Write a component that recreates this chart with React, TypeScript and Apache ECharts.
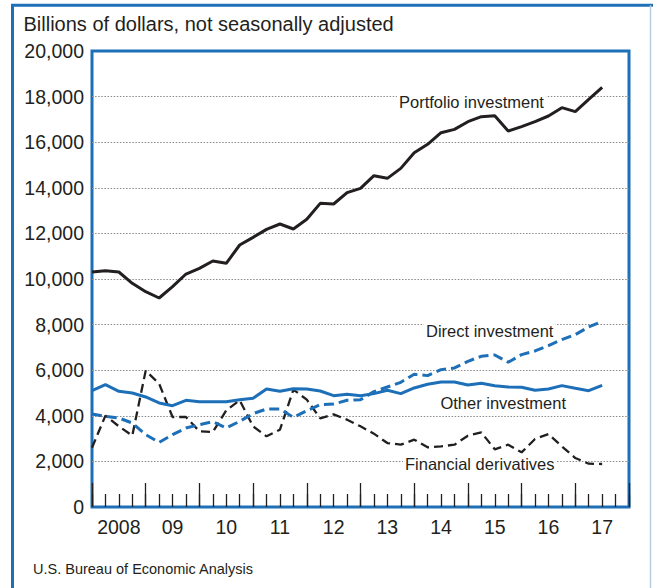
import React, { useEffect, useRef } from "react";
import * as echarts from "echarts";

// Quarterly positions: index 0 = start of 2008, one step per quarter (39 points)
const years = ["2008", "09", "10", "11", "12", "13", "14", "15", "16", "17"];

const portfolio = [
  10307, 10365, 10307, 9810, 9444, 9167, 9664, 10219, 10468, 10789, 10687, 11491,
  11827, 12178, 12412, 12193, 12617, 13318, 13289, 13787, 13977, 14532, 14415,
  14853, 15541, 15906, 16418, 16564, 16900, 17120, 17163, 16491, 16680, 16900,
  17149, 17515, 17340, 17880, 18406,
];

const direct = [
  4079, 3977, 3904, 3684, 3172, 2836, 3172, 3465, 3611, 3743, 3465, 3757, 4094,
  4299, 4299, 3930, 4225, 4489, 4518, 4679, 4708, 5059, 5264, 5469, 5820, 5762,
  6025, 6098, 6391, 6610, 6669, 6347, 6683, 6844, 7078, 7342, 7561, 7898, 8146,
];

const other = [
  5103, 5367, 5074, 5000, 4825, 4562, 4445, 4679, 4620, 4620, 4620, 4708, 4767,
  5176, 5074, 5190, 5176, 5089, 4884, 4942, 4884, 4972, 5118, 4972, 5220, 5381,
  5484, 5484, 5352, 5430, 5320, 5264, 5250, 5118, 5176, 5323, 5206, 5103, 5337,
];

const derivatives = [
  2600, 4006, 3538, 3128, 5981, 5410, 3948, 3948, 3318, 3289, 4240, 4679, 3538,
  3099, 3392, 5150, 4708, 3889, 4065, 3830, 3538, 3216, 2806, 2733, 2953, 2616,
  2660, 2733, 3128, 3274, 2530, 2733, 2397, 2982, 3201, 2660, 2148, 1899, 1885,
];

const yMin = 0;
const yMax = 20000;
const yStep = 2000;
const quarterCount = 40;

const titleText = "Billions of dollars, not seasonally adjusted";
const sourceText = "U.S. Bureau of Economic Analysis";
const labelPortfolio = "Portfolio investment";
const labelDirect = "Direct investment";
const labelOther = "Other investment";
const labelDerivatives = "Financial derivatives";

const BLUE = "#1d6fb8";
const DARK = "#231f20";
const FONT = '"Liberation Sans", Arial, Helvetica, sans-serif';

const toPairs = (arr: number[]) => arr.map((v, i) => [i, v]);

export default function App() {
  const ref = useRef<HTMLDivElement>(null);

  useEffect(() => {
    if (!ref.current) return;
    const chart = echarts.init(ref.current, null, { renderer: "svg" });

    const annot = (text: string, x: number, y: number) => ({
      type: "text",
      x: x - 2,
      y,
      z: 50,
      style: {
        text,
        fill: DARK,
        font: `16.5px ${FONT}`,
        align: "left",
        verticalAlign: "middle",
        backgroundColor: "#ffffff",
        padding: [1, 2],
      },
    });

    chart.setOption({
      animation: false,
      backgroundColor: "#ffffff",
      textStyle: { fontFamily: FONT },
      grid: {
        left: 92,
        top: 51,
        right: 24,
        bottom: 81,
        show: true,
        borderColor: BLUE,
        borderWidth: 3,
        backgroundColor: "transparent",
      },
      xAxis: [
        {
          type: "value",
          min: 0,
          max: quarterCount,
          interval: 1,
          position: "bottom",
          axisLine: { show: false },
          axisTick: {
            show: true,
            inside: true,
            length: 13,
            lineStyle: { color: DARK, width: 1.3 },
          },
          axisLabel: { show: false },
          splitLine: { show: false },
        },
        {
          type: "category",
          data: years,
          boundaryGap: true,
          position: "bottom",
          axisLine: { show: false },
          axisTick: {
            show: true,
            inside: true,
            length: 24,
            interval: 0,
            lineStyle: { color: DARK, width: 1.3 },
          },
          axisLabel: {
            interval: 0,
            fontSize: 19.5,
            color: DARK,
            margin: 10,
            fontFamily: FONT,
          },
          splitLine: { show: false },
        },
      ],
      yAxis: {
        type: "value",
        min: yMin,
        max: yMax,
        interval: yStep,
        axisLine: { show: false },
        axisTick: { show: false },
        axisLabel: {
          fontSize: 19.5,
          color: DARK,
          margin: 8,
          fontFamily: FONT,
          padding: [5, 0, 0, 0],
          formatter: (v: number) => v.toLocaleString("en-US"),
        },
        splitLine: {
          show: true,
          showMinLine: false,
          showMaxLine: false,
          lineStyle: { color: "#8a8a8a", width: 1.2, type: [1.5, 1.6] },
        },
      },
      series: [
        {
          name: labelDerivatives,
          type: "line",
          xAxisIndex: 0,
          data: toPairs(derivatives),
          symbol: "none",
          lineStyle: { color: DARK, width: 2.3, type: [9, 5] },
          z: 3,
        },
        {
          name: labelPortfolio,
          type: "line",
          xAxisIndex: 0,
          data: toPairs(portfolio),
          symbol: "none",
          lineStyle: { color: DARK, width: 3 },
          z: 3,
        },
        {
          name: labelOther,
          type: "line",
          xAxisIndex: 0,
          data: toPairs(other),
          symbol: "none",
          lineStyle: { color: BLUE, width: 3 },
          z: 4,
        },
        {
          name: labelDirect,
          type: "line",
          xAxisIndex: 0,
          data: toPairs(direct),
          symbol: "none",
          lineStyle: { color: BLUE, width: 3, type: [10, 5] },
          z: 4,
        },
      ],
      graphic: [
        {
          type: "polyline",
          z: 60,
          shape: { points: [[12.5, 588], [12.5, 5.3], [653, 5.3]] },
          style: { stroke: BLUE, lineWidth: 3, fill: "none" },
        },
        {
          type: "line",
          z: 60,
          shape: { x1: 650.5, y1: 5.3, x2: 650.5, y2: 588 },
          style: { stroke: "#b9cde0", lineWidth: 1.5 },
        },
        {
          type: "text",
          x: 23.5,
          y: 24,
          z: 50,
          style: {
            text: titleText,
            fill: DARK,
            font: `20px ${FONT}`,
            align: "left",
            verticalAlign: "middle",
          },
        },
        {
          type: "text",
          x: 33,
          y: 569,
          z: 50,
          style: {
            text: sourceText,
            fill: DARK,
            font: `14.5px ${FONT}`,
            align: "left",
            verticalAlign: "middle",
          },
        },
        annot(labelPortfolio, 399, 101.7),
        annot(labelDirect, 426, 330.5),
        annot(labelOther, 440.4, 403.3),
        annot(labelDerivatives, 405, 464),
      ],
    });

    return () => chart.dispose();
  }, []);

  return (
    <div
      ref={ref}
      style={{
        position: "fixed",
        left: 0,
        top: 0,
        width: 653,
        height: 588,
        background: "#ffffff",
      }}
    />
  );
}
